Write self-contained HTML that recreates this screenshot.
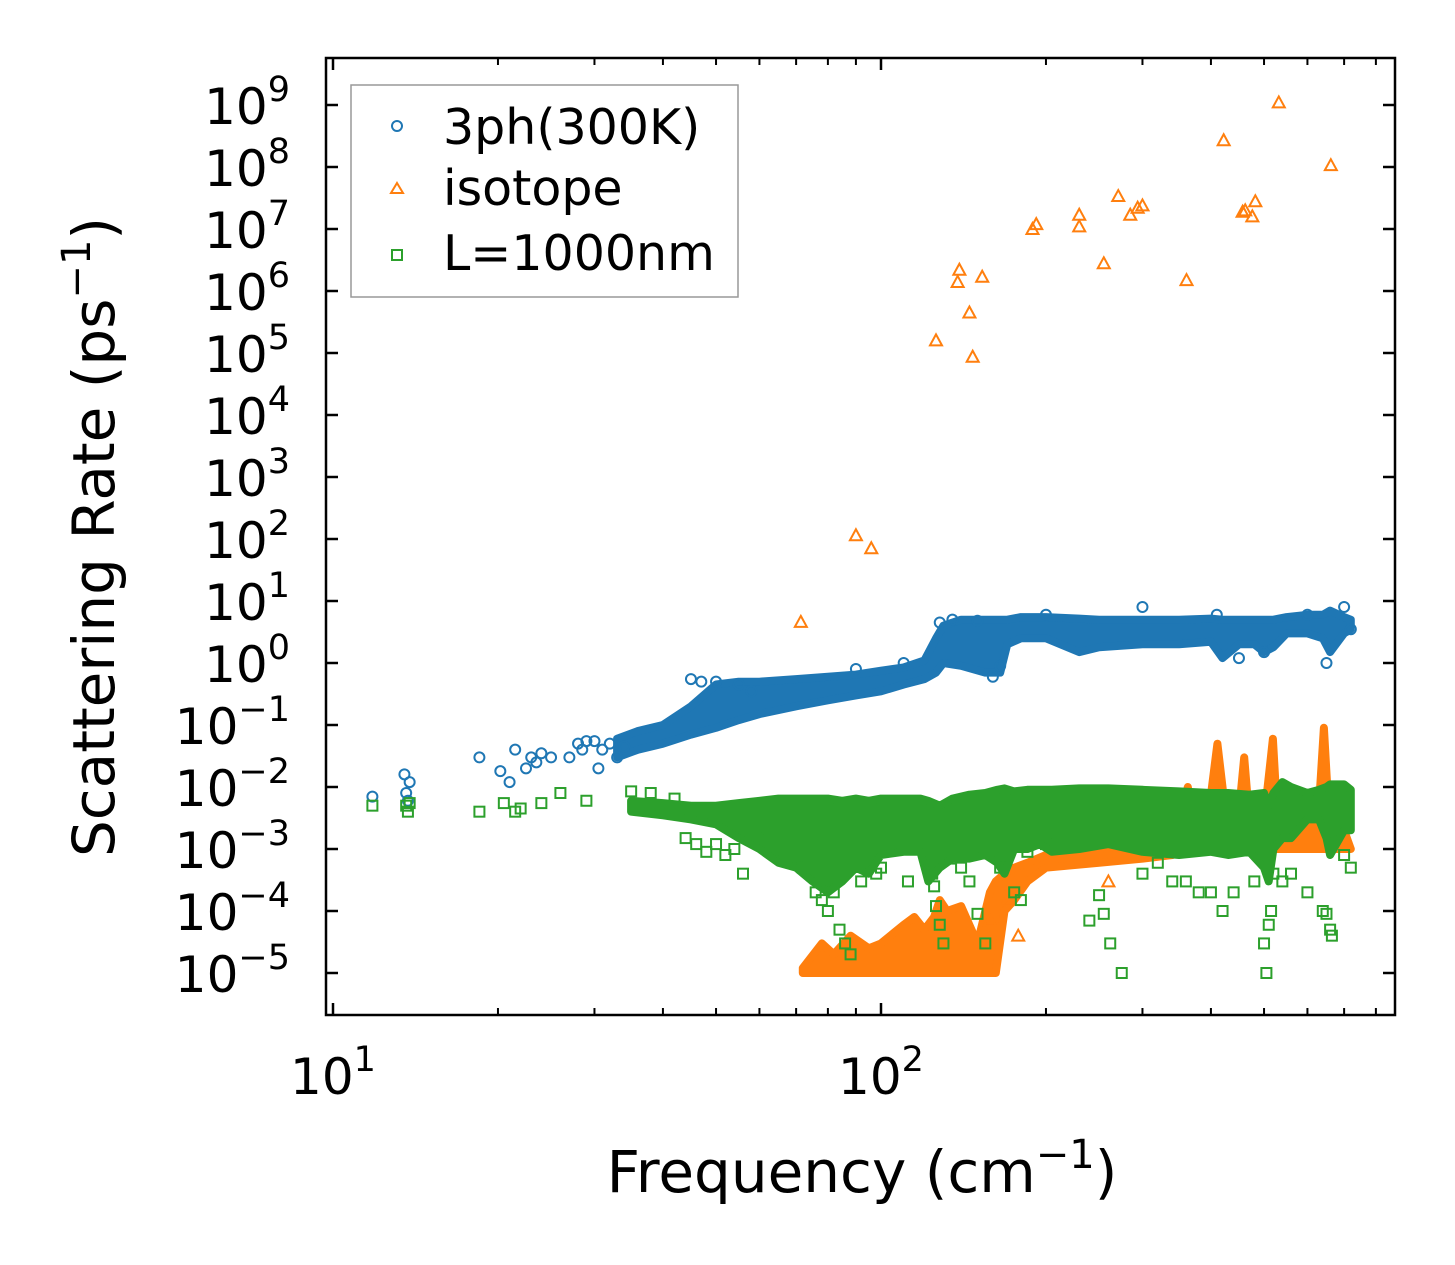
<!DOCTYPE html>
<html><head><meta charset="utf-8"><style>
html,body{margin:0;padding:0;background:#fff;}
svg{display:block;font-family:"DejaVu Sans","Liberation Sans",sans-serif;}
</style></head><body>
<svg id="chart" width="1455" height="1265" viewBox="0 0 1455 1265" xmlns="http://www.w3.org/2000/svg">
<rect width="1455" height="1265" fill="#fff"/>
<g id="marks"></g>
<g id="axes"></g>
<text x="862" y="1192" font-size="58" text-anchor="middle">Frequency (cm<tspan dy="-24" font-size="40">−1</tspan><tspan dy="24">)</tspan></text>
<text transform="translate(114,537) rotate(-90)" font-size="58" text-anchor="middle">Scattering Rate (ps<tspan dy="-24" font-size="40">−1</tspan><tspan dy="24">)</tspan></text>
<g>
<rect x="351" y="85" width="387" height="212" fill="#fff" stroke="#999" stroke-width="1.5"/>
<circle cx="397" cy="126" r="5" fill="none" stroke="#1f77b4" stroke-width="2"/>
<text x="443" y="144" font-size="49">3ph(300K)</text>
<path d="M397,183 L403,193 L391,193 Z" fill="none" stroke="#ff7f0e" stroke-width="2"/>
<text x="443" y="205" font-size="49">isotope</text>
<rect x="392" y="250" width="10" height="10" fill="none" stroke="#2ca02c" stroke-width="2"/>
<text x="443" y="270" font-size="49">L=1000nm</text>
</g>
</svg>
<script>
// ---- data ----
const blueFreq=[11.8,13.5,13.6,13.7,13.8,18.5,20.2,21,21.5,22.5,23,23.5,24,25,27,28,28.5,29,30,30.5,31,32,33,34,45,47,50,55,58,90,110,128,135,150,160,165,200,300,410,450,500,600,650,700,720];
const blueRate=[0.007,0.016,0.008,0.006,0.012,0.03,0.018,0.012,0.04,0.02,0.03,0.025,0.035,0.03,0.03,0.05,0.04,0.055,0.055,0.02,0.04,0.05,0.03,0.045,0.55,0.5,0.5,0.45,0.35,0.8,1.0,4.5,5,4.8,0.6,0.9,6,8,6,1.2,1.5,6,1,8,3.5];
const blueBandF=[33,36,40,45,50,55,60,70,80,90,100,110,120,126,130,140,155,165,170,180,200,230,250,300,350,400,420,450,480,500,520,550,600,640,660,700,720];
const blueBandLo=[0.03,0.04,0.05,0.07,0.09,0.12,0.15,0.2,0.25,0.3,0.35,0.45,0.55,0.7,1.0,0.9,0.7,0.7,2,2.5,2.5,1.5,1.8,2,2,2.2,1.2,2,2,1.5,1.8,3,3,2.5,1.5,3,3.5];
const blueBandHi=[0.06,0.08,0.1,0.2,0.45,0.5,0.5,0.55,0.6,0.65,0.75,0.85,1.1,2.5,4,5,5,5,5,5.5,5.5,5.2,5,5,5,5.2,5,5,5,5,5,5.5,6,6,7,5.5,5];
const orangeFreq=[71.4,90,96,126,138,139,145,147,153,189,192,230,230,255,271,285,294,300,361,422,457,462,476,482,532,662,158,170,178,260];
const orangeRate=[4.6,115,71,1.6e5,1.4e6,2.2e6,4.5e5,8.7e4,1.7e6,1e7,1.2e7,1.7e7,1.1e7,2.8e6,3.4e7,1.7e7,2.2e7,2.4e7,1.5e6,2.7e8,1.9e7,2e7,1.6e7,2.8e7,1.1e9,1.07e8,7e-5,1.5e-4,4e-5,3e-4];
const orangeBandF=[72,78,82,88,95,100,110,115,120,125,128,132,140,150,158,162,168,175,185,200,250,300,340,355,363,372,395,411,425,450,460,470,500,512,519,528,560,610,630,643,655,680,700,720];
const orangeBandLo=[1e-5,1e-5,1e-5,1e-5,1e-5,1e-5,1e-5,1e-5,1e-5,1e-5,1e-5,1e-5,1e-5,1e-5,1e-5,1e-5,1e-4,1.5e-4,3e-4,5e-4,6e-4,7e-4,8e-4,1e-3,1e-3,1e-3,1e-3,1e-3,1e-3,1e-3,1e-3,1e-3,1e-3,1e-3,1e-3,1e-3,1e-3,1e-3,1e-3,1e-3,1e-3,1e-3,1e-3,1e-3];
const orangeBandHi=[1.2e-5,3e-5,2e-5,4e-5,2.5e-5,3e-5,6e-5,8e-5,5e-5,8e-5,1.5e-4,1e-4,1.2e-4,3e-5,2e-4,3e-4,4e-4,5e-4,6e-4,8e-4,1e-3,1.2e-3,2e-3,4e-3,1e-2,3e-3,3e-3,5e-2,4e-3,4e-3,3e-2,3e-3,3e-3,2e-2,6e-2,4e-3,3e-3,3e-3,5e-3,9e-2,5e-3,3e-3,2e-3,1e-3];
const greenFreq=[11.8,13.6,13.7,13.8,18.5,20.5,21.5,22,24,26,29,35,38,42,44,46,48,50,52,54,56,60,62,66,70,72,75,76,78,80,82,84,86,88,92,96,98,100,104,112,122,124,125,126,128,130,134,140,145,150,155,165,175,180,185,200,240,250,255,262,275,300,320,340,360,380,400,420,440,480,500,505,510,515,520,540,560,600,640,650,660,665,700,720];
const greenRate=[0.005,0.005,0.004,0.0055,0.004,0.0055,0.004,0.0045,0.0055,0.008,0.006,0.0085,0.008,0.0065,0.0015,0.0012,0.0009,0.0012,0.0008,0.001,0.0004,0.0035,0.0015,0.0009,0.0007,0.0005,0.0004,0.0002,0.00015,0.0001,0.0002,0.00005,0.00003,0.00002,0.0003,0.0006,0.0004,0.0005,0.001,0.0003,0.0006,0.0004,0.00025,0.00012,0.00006,0.00003,0.0007,0.0005,0.0003,0.00009,0.00003,0.0005,0.0002,0.00015,0.0009,0.0012,0.00007,0.00018,0.00009,0.00003,0.00001,0.0004,0.0006,0.0003,0.0003,0.0002,0.0002,0.0001,0.0002,0.0003,0.00003,0.00001,0.00006,0.0001,0.0004,0.0003,0.0004,0.0002,0.0001,0.00009,0.00005,0.00004,0.0008,0.0005];
const greenBandF=[35,40,45,50,55,60,65,70,75,80,85,90,95,100,110,118,122,128,135,145,155,163,168,175,185,195,205,230,260,300,350,400,430,470,500,510,520,540,560,600,630,650,660,700,720];
const greenBandLo=[0.004,0.0035,0.003,0.0025,0.0015,0.001,0.0006,0.0005,0.0003,0.0002,0.0003,0.0005,0.0004,0.0008,0.0009,0.0009,0.0003,0.0005,0.0007,0.0007,0.0008,0.0006,0.0004,0.001,0.001,0.0012,0.0009,0.001,0.0012,0.0009,0.0008,0.0009,0.0008,0.0009,0.0005,0.0003,0.001,0.0015,0.0015,0.003,0.003,0.0015,0.0008,0.002,0.002];
const greenBandHi=[0.006,0.0055,0.005,0.005,0.0055,0.006,0.0065,0.0065,0.0065,0.0065,0.006,0.0065,0.006,0.0065,0.0065,0.0065,0.006,0.005,0.0065,0.0075,0.008,0.009,0.0095,0.0085,0.009,0.009,0.009,0.0095,0.0095,0.009,0.0085,0.008,0.008,0.0075,0.008,0.005,0.008,0.012,0.01,0.008,0.009,0.01,0.011,0.011,0.009];
const yTickExp=[9,8,7,6,5,4,3,2,1,0,-1,-2,-3,-4,-5];
const xTickExp=[1,2];

// ---- axes ----
const L=326,R=1395,T=58,B=1015;
const X=f=>333+548*Math.log10(f/10);
const Y=v=>105+62*(9-Math.log10(v));
const NS="http://www.w3.org/2000/svg";
const marks=document.getElementById('marks');
const axes=document.getElementById('axes');
function mk(tag,attrs,parent){const e=document.createElementNS(NS,tag);for(const k in attrs)e.setAttribute(k,attrs[k]);parent.appendChild(e);return e;}
const C={blue:'#1f77b4',orange:'#ff7f0e',green:'#2ca02c'};

function band(F,lo,hi,col,name){
  let d='M'+F.map((f,i)=>X(f).toFixed(1)+','+Y(hi[i]).toFixed(1)).join(' L');
  for(let i=F.length-1;i>=0;i--)d+=' L'+X(F[i]).toFixed(1)+','+Y(lo[i]).toFixed(1);
  const p=mk('path',{d:d+'Z',fill:col,stroke:col,'stroke-width':8,'stroke-linejoin':'round'},marks);
  
  
}
function pts(F,V,col,shape,name){
  F.forEach((f,i)=>{
    const x=X(f),y=Y(V[i]);let e;
    if(shape==='c')e=mk('circle',{cx:x,cy:y,r:5,fill:'none',stroke:col,'stroke-width':2},marks);
    else if(shape==='t')e=mk('path',{d:`M${x},${y-6} L${x+6},${y+5} L${x-6},${y+5}Z`,fill:'none',stroke:col,'stroke-width':2},marks);
    else e=mk('rect',{x:x-5,y:y-5,width:10,height:10,fill:'none',stroke:col,'stroke-width':2},marks);
    
    
  });
}
band(blueBandF,blueBandLo,blueBandHi,C.blue,'3ph-dense-band');
pts(blueFreq,blueRate,C.blue,'c','3ph-point');
band(orangeBandF,orangeBandLo,orangeBandHi,C.orange,'isotope-dense-band');
pts(orangeFreq,orangeRate,C.orange,'t','isotope-point');
band(greenBandF,greenBandLo,greenBandHi,C.green,'boundary-dense-band');
pts(greenFreq,greenRate,C.green,'s','boundary-point');

// frame
const fr=mk('rect',{x:L,y:T,width:R-L,height:B-T,fill:'none',stroke:'#000','stroke-width':2.5},axes);


// y ticks
yTickExp.forEach(e=>{
  const y=Y(Math.pow(10,e));
  mk('line',{x1:L,x2:L+12,y1:y,y2:y,stroke:'#000','stroke-width':2.5},axes);
  mk('line',{x1:R,x2:R-12,y1:y,y2:y,stroke:'#000','stroke-width':2.5},axes);
  const t=mk('text',{x:290,y:y+19,'font-size':50,'text-anchor':'end'},axes);
  
  
  t.innerHTML='10';
  const s=mk('tspan',{dy:-23,'font-size':35},t);s.textContent=e<0?'−'+(-e):String(e);
});
// x ticks major + minor
xTickExp.forEach(e=>{
  const x=X(Math.pow(10,e));
  mk('line',{x1:x,x2:x,y1:B,y2:B-12,stroke:'#000','stroke-width':2.5},axes);
  mk('line',{x1:x,x2:x,y1:T,y2:T+12,stroke:'#000','stroke-width':2.5},axes);
  const t=mk('text',{x:x,y:1094,'font-size':50,'text-anchor':'middle'},axes);
  
  
  t.innerHTML='10';
  const s=mk('tspan',{dy:-23,'font-size':35},t);s.textContent=String(e);
});
for(let d=1;d<=2;d++)for(let m=2;m<=9;m++){
  const f=m*Math.pow(10,d);if(f<10||f>870)continue;
  const x=X(f);
  mk('line',{x1:x,x2:x,y1:B,y2:B-7,stroke:'#000','stroke-width':2},axes);
  mk('line',{x1:x,x2:x,y1:T,y2:T+7,stroke:'#000','stroke-width':2},axes);
}
</script>
</body></html>
